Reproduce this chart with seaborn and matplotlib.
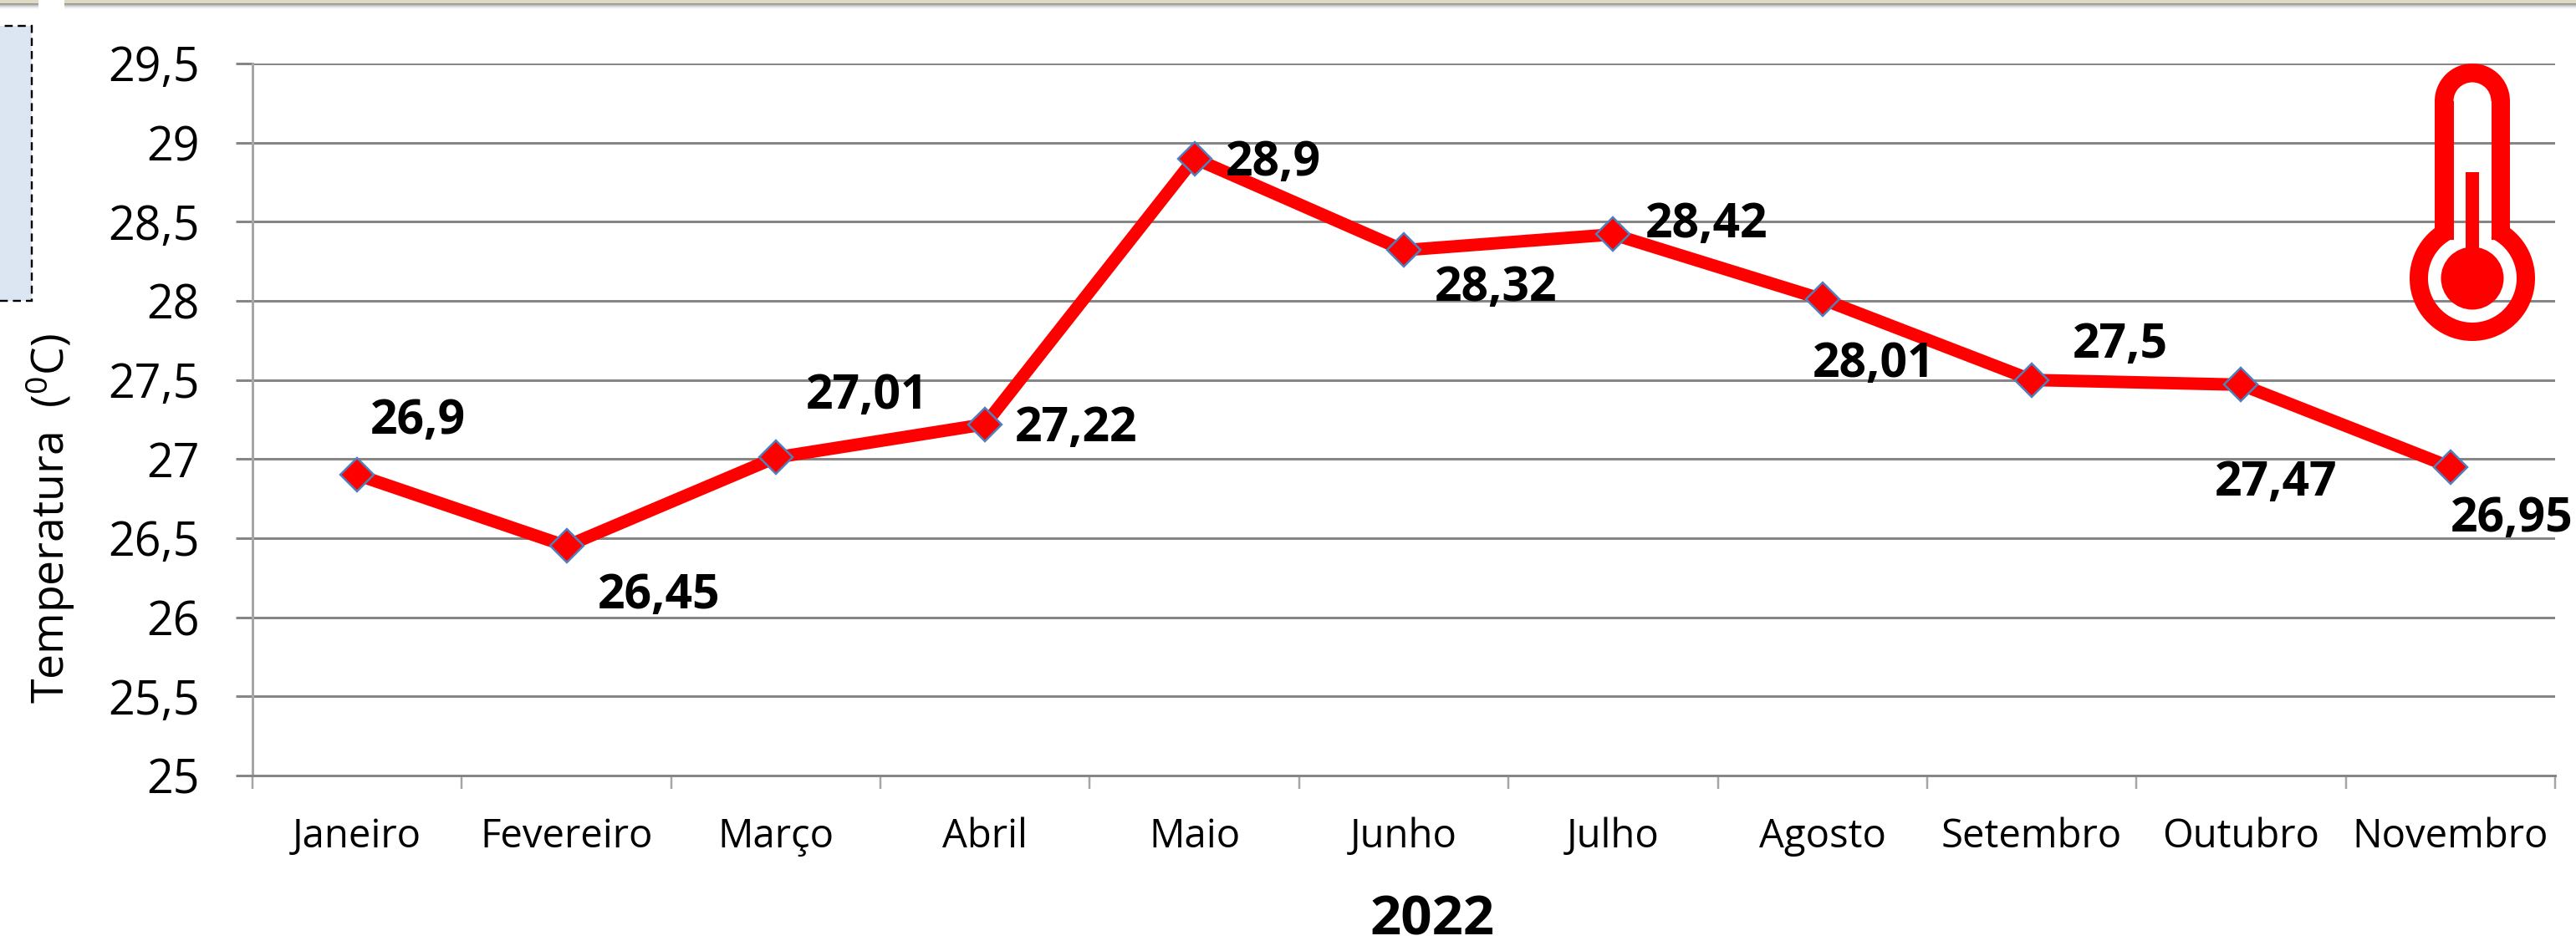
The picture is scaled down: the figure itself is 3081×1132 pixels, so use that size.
import matplotlib
matplotlib.use('Agg')
import numpy as np
import pandas as pd
import seaborn as sns
import matplotlib.pyplot as plt
from matplotlib.patches import Rectangle, Wedge, Circle

W, H = 3081, 1132
DPI = 100

months = ['Janeiro', 'Fevereiro', 'Março', 'Abril', 'Maio', 'Junho', 'Julho',
          'Agosto', 'Setembro', 'Outubro', 'Novembro']
temps = [26.9, 26.45, 27.01, 27.22, 28.9, 28.32, 28.42, 28.01, 27.5, 27.47, 26.95]
value_labels = ['26,9', '26,45', '27,01', '27,22', '28,9', '28,32', '28,42',
                '28,01', '27,5', '27,47', '26,95']
y_ticks = [25, 25.5, 26, 26.5, 27, 27.5, 28, 28.5, 29, 29.5]
y_tick_labels = ['25', '25,5', '26', '26,5', '27', '27,5', '28', '28,5', '29', '29,5']

# label offsets from each point, in pixels of the final image
label_dx = [73, 111, 109, 109, 94, 110, 112, 61, 106, 42, 73]
label_dy = [64, -60, 73, -5, -5, -46, 11, -78, 42, -118, -62]

# plot area in pixels
LEFT, RIGHT, TOP, BOTTOM = 302, 3056, 76, 928
GRID = '#868686'
px = 72 / DPI  # one image pixel in points

sns.set_theme(style='white')
plt.rcParams['font.family'] = ['Open Sans', 'DejaVu Sans']
plt.rcParams['mathtext.default'] = 'regular'

fig = plt.figure(figsize=(W / DPI, H / DPI), dpi=DPI)
ax = fig.add_axes([LEFT / W, 1 - BOTTOM / H, (RIGHT - LEFT) / W, (BOTTOM - TOP) / H])

df = pd.DataFrame({'mes': months, 'temp': temps})
sns.lineplot(data=df, x='mes', y='temp', sort=False, errorbar=None, ax=ax,
             color='#FF0000', linewidth=15 * px, marker='D', markersize=28 * px,
             markerfacecolor='#FF0000', markeredgecolor='#4F81BD',
             markeredgewidth=2.5 * px, clip_on=False, zorder=5)

ax.set_xlim(-0.5, len(months) - 0.5)
ax.set_ylim(25, 29.5)

ax.set_yticks(y_ticks)
ax.set_yticklabels(y_tick_labels, fontsize=40)
ax.yaxis.grid(True, color=GRID, linewidth=3 * px)
ax.set_axisbelow(True)
ax.tick_params(axis='y', left=True, length=20 * px, width=3 * px, color=GRID,
               pad=43 * px, labelcolor='black')

# month names sit between the ticks, so the ticks themselves are minor ones
ax.set_xticks(range(len(months)))
ax.set_xticklabels(months, fontsize=34)
ax.set_xticks(np.arange(-0.5, len(months)), minor=True)
ax.tick_params(axis='x', which='major', bottom=False, pad=41 * px, labelcolor='black')
ax.tick_params(axis='x', which='minor', bottom=True, length=16 * px, width=2.5 * px,
               color='#A6A6A6')

for side in ['top', 'right']:
    ax.spines[side].set_visible(False)
ax.spines['left'].set_color('#A6A6A6')
ax.spines['left'].set_linewidth(3 * px)
ax.spines['bottom'].set_color(GRID)
ax.spines['bottom'].set_linewidth(3 * px)

ax.set_ylabel('Temperatura  ($^{0}$C)', fontsize=38.5, color='black')
ax.yaxis.set_label_coords((92 - LEFT) / (RIGHT - LEFT), (BOTTOM - 620) / (BOTTOM - TOP))
ax.set_xlabel('2022', fontsize=47, fontweight='bold', color='black', va='center')
ax.xaxis.set_label_coords((1713 - LEFT) / (RIGHT - LEFT), -(1102 - BOTTOM) / (BOTTOM - TOP))

for i, label in enumerate(value_labels):
    ax.annotate(label, (i, temps[i]), xytext=(label_dx[i] * px, label_dy[i] * px),
                textcoords='offset points', ha='center', va='center', fontsize=41,
                fontweight='bold', color='black', zorder=6, annotation_clip=False)

# overlay in image pixels for the slide furniture around the chart
over = fig.add_axes([0, 0, 1, 1], facecolor='none')
over.set_xlim(0, W)
over.set_ylim(H, 0)
over.axis('off')

# beige bars along the top edge, with their soft shadow
for x0, x1 in [(0, 46), (77, W)]:
    for k, a in enumerate([0.7, 0.55, 0.4, 0.28, 0.17, 0.09, 0.04]):
        over.add_patch(Rectangle((x0, 4 + k), x1 - x0, 1, color='#666666', alpha=a, lw=0))
    over.add_patch(Rectangle((x0, 0), x1 - x0, 4, color='#DDD9C3', lw=0))

# cropped text box on the left
over.add_patch(Rectangle((-10, 31), 48, 329, facecolor='#DCE6F2', edgecolor='black',
                         linewidth=2 * px * 1.2, linestyle=(0, (4, 2.5))))

# thermometer icon
red = '#FF0000'
cx, tube_y, bulb_y = 2957, 121, 333
over.add_patch(Wedge((cx, tube_y), 45, 180, 360, width=22.5, color=red, lw=0))
over.add_patch(Rectangle((cx - 45, tube_y), 22.5, 166, color=red, lw=0))
over.add_patch(Rectangle((cx + 22.5, tube_y), 22.5, 166, color=red, lw=0))
over.add_patch(Wedge((cx, bulb_y), 75, 295, 245, width=22, color=red, lw=0))
over.add_patch(Circle((cx, bulb_y), 37.5, color=red, lw=0))
over.add_patch(Rectangle((cx - 8, 206), 16, 100, color=red, lw=0))

fig.savefig('out.png', dpi=DPI, facecolor='white')
